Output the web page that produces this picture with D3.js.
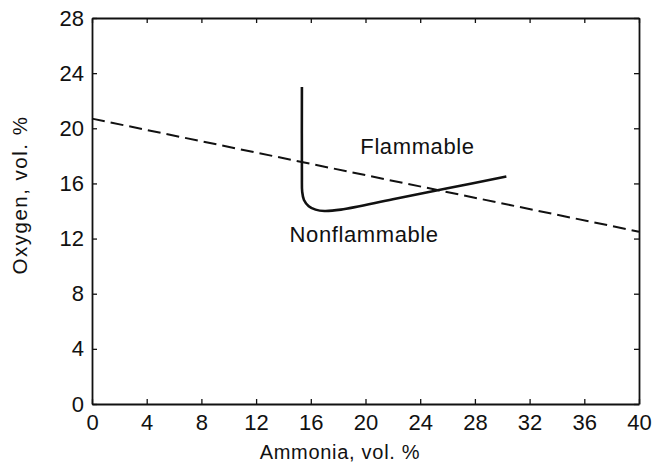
<!DOCTYPE html>
<html>
<head>
<meta charset="utf-8">
<script src="https://cdn.jsdelivr.net/npm/d3@7"></script>
<style>
  body { margin: 0; background: #fff; }
  svg { display: block; font-family: "Liberation Sans", Arial, sans-serif; }
</style>
</head>
<body>
<svg width="653" height="464"></svg>
<script>
// データ
var xTicks = [0, 4, 8, 12, 16, 20, 24, 28, 32, 36, 40];
var yTicks = [0, 4, 8, 12, 16, 20, 24, 28];
// 破線 (空気による希釈線)
var dashedX = [0, 40];
var dashedY = [20.7, 12.5];
// 可燃限界の曲線
var limitX = [15.35, 15.35, 15.37, 15.5, 15.85, 16.35, 17.0, 18.2, 22, 26, 30.3];
var limitY = [23.0, 16.5, 15.4, 14.8, 14.35, 14.1, 14.0, 14.1, 14.85, 15.65, 16.5];
var regionLabels = ["Flammable", "Nonflammable"];
var regionX = [23.8, 19.9];
var regionY = [18.7, 12.3];

var svg = d3.select("svg");
// プロット領域
var plotL = 92, plotR = 639, plotT = 18, plotB = 404;

var x = d3.scaleLinear().domain([0, 40]).range([plotL, plotR]);
var y = d3.scaleLinear().domain([0, 28]).range([plotB, plotT]);

// 軸 (目盛りは内向き)
var tickLen = 5;
svg.append("g").attr("transform", "translate(0," + plotB + ")")
    .call(d3.axisBottom(x).tickValues(xTicks).tickSizeInner(-tickLen).tickSizeOuter(0).tickPadding(10));
svg.append("g").attr("transform", "translate(0," + plotT + ")")
    .call(d3.axisTop(x).tickValues(xTicks).tickSizeInner(-tickLen).tickSizeOuter(0).tickFormat(""));
svg.append("g").attr("transform", "translate(" + plotL + ",0)")
    .call(d3.axisLeft(y).tickValues(yTicks).tickSizeInner(-tickLen).tickSizeOuter(0).tickPadding(8));
svg.append("g").attr("transform", "translate(" + plotR + ",0)")
    .call(d3.axisRight(y).tickValues(yTicks).tickSizeInner(-tickLen).tickSizeOuter(0).tickFormat(""));

svg.selectAll(".domain").attr("stroke", "#111").attr("stroke-width", 1.8);
svg.selectAll(".tick line").attr("stroke", "#111").attr("stroke-width", 1.3);
svg.selectAll(".tick text")
    .attr("fill", "#111")
    .style("font-size", "22px")
    .style("font-family", "'Liberation Sans', Arial, sans-serif");

// 破線
var line = d3.line().x(function(d){ return x(d[0]); }).y(function(d){ return y(d[1]); });
svg.append("path")
    .datum(d3.zip(dashedX, dashedY))
    .attr("d", line)
    .attr("fill", "none")
    .attr("stroke", "#111")
    .attr("stroke-width", 2)
    .attr("stroke-dasharray", "13,6");

// 実線
svg.append("path")
    .datum(d3.zip(limitX, limitY))
    .attr("d", line.curve(d3.curveCatmullRom.alpha(0.5)))
    .attr("fill", "none")
    .attr("stroke", "#111")
    .attr("stroke-width", 2.6)
    .attr("stroke-linecap", "butt");

// 領域ラベル
svg.selectAll(".region")
    .data(regionLabels)
    .enter()
    .append("text")
    .attr("class", "region")
    .attr("x", function(d, i){ return x(regionX[i]); })
    .attr("y", function(d, i){ return y(regionY[i]); })
    .attr("text-anchor", "middle")
    .attr("dominant-baseline", "central")
    .attr("fill", "#111")
    .style("font-size", "22px")
    .style("letter-spacing", "0.6px")
    .text(function(d){ return d; });

// 軸タイトル
svg.append("text")
    .attr("x", 340).attr("y", 459)
    .attr("text-anchor", "middle")
    .attr("fill", "#111")
    .style("font-size", "20px")
    .style("letter-spacing", "0.7px")
    .text("Ammonia, vol. %");
svg.append("text")
    .attr("transform", "translate(27,195) rotate(-90)")
    .attr("text-anchor", "middle")
    .attr("fill", "#111")
    .style("font-size", "20.5px")
    .style("letter-spacing", "1.5px")
    .text("Oxygen, vol. %");
</script>
</body>
</html>
